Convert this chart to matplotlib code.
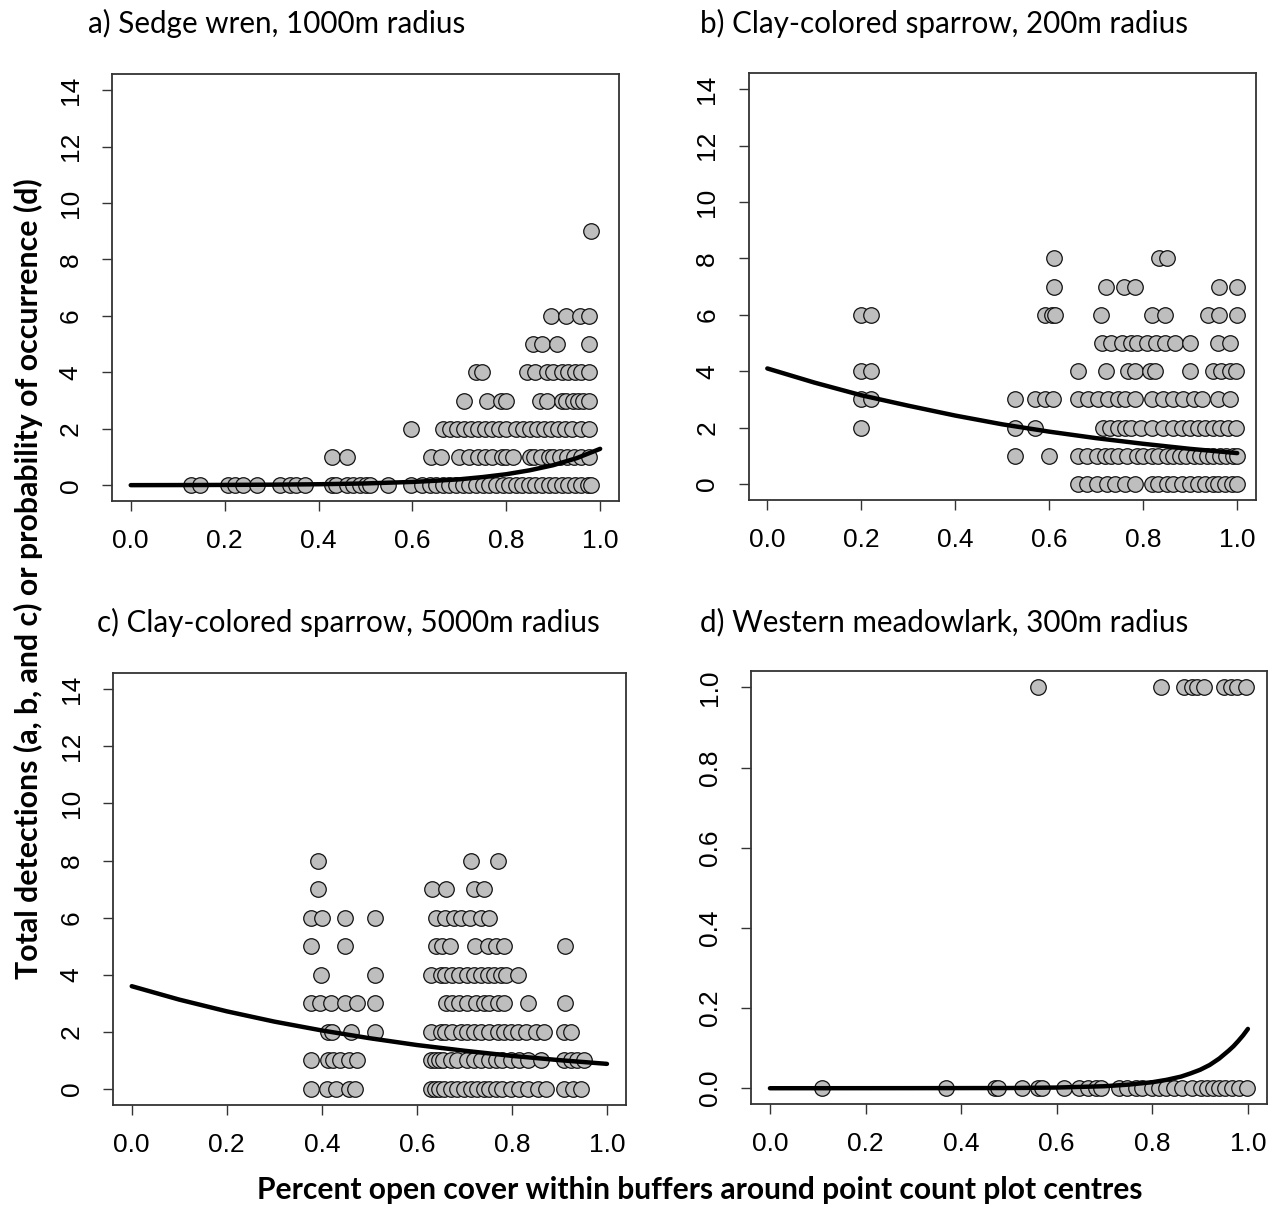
import matplotlib
matplotlib.use("Agg")
import matplotlib.pyplot as plt

# detections per point, grouped by count value -> x positions (percent open cover)
sedge_rows = {
    0: [0.128, 0.147, 0.208, 0.222, 0.240, 0.269, 0.319, 0.339, 0.353, 0.371, 0.428, 0.438,
        0.460, 0.474, 0.488, 0.502, 0.509, 0.548, 0.598, 0.620, 0.637, 0.651, 0.665, 0.679,
        0.693, 0.707, 0.721, 0.735, 0.750, 0.764, 0.778, 0.792, 0.806, 0.820, 0.834, 0.848,
        0.862, 0.876, 0.890, 0.904, 0.918, 0.932, 0.946, 0.960, 0.974, 0.981],
    1: [0.428, 0.460, 0.640, 0.660, 0.700, 0.720, 0.740, 0.755, 0.770, 0.790, 0.800, 0.815,
        0.850, 0.860, 0.875, 0.890, 0.900, 0.915, 0.930, 0.945, 0.960, 0.977],
    2: [0.598, 0.665, 0.680, 0.695, 0.710, 0.725, 0.740, 0.755, 0.770, 0.785, 0.800, 0.820,
        0.835, 0.850, 0.865, 0.880, 0.895, 0.910, 0.925, 0.940, 0.960, 0.977],
    3: [0.710, 0.759, 0.789, 0.800, 0.872, 0.886, 0.918, 0.928, 0.942, 0.953, 0.963, 0.977],
    4: [0.735, 0.749, 0.845, 0.862, 0.886, 0.900, 0.918, 0.932, 0.946, 0.960, 0.977],
    5: [0.858, 0.876, 0.909, 0.977],
    6: [0.895, 0.928, 0.956, 0.977],
    9: [0.981],
}

ccsp200_rows = {
    0: [0.662, 0.680, 0.701, 0.722, 0.740, 0.761, 0.782, 0.818, 0.832, 0.850, 0.864, 0.882,
        0.899, 0.917, 0.931, 0.949, 0.960, 0.974, 0.988, 1.000],
    1: [0.527, 0.600, 0.662, 0.680, 0.701, 0.718, 0.732, 0.747, 0.765, 0.786, 0.800, 0.818,
        0.832, 0.850, 0.864, 0.878, 0.892, 0.907, 0.921, 0.935, 0.949, 0.963, 0.977, 0.991, 1.000],
    2: [0.199, 0.527, 0.569, 0.715, 0.729, 0.747, 0.761, 0.775, 0.796, 0.818, 0.843, 0.864,
        0.882, 0.899, 0.917, 0.931, 0.949, 0.963, 0.981, 0.998],
    3: [0.199, 0.221, 0.527, 0.569, 0.591, 0.609, 0.662, 0.683, 0.704, 0.726, 0.747, 0.761,
        0.782, 0.818, 0.843, 0.864, 0.885, 0.907, 0.924, 0.960, 0.985],
    4: [0.199, 0.221, 0.662, 0.721, 0.768, 0.782, 0.815, 0.825, 0.899, 0.949, 0.966, 0.985, 0.998],
    5: [0.713, 0.732, 0.754, 0.775, 0.786, 0.807, 0.828, 0.846, 0.868, 0.899, 0.960, 0.985],
    6: [0.199, 0.221, 0.591, 0.605, 0.612, 0.711, 0.818, 0.846, 0.938, 0.962, 0.999],
    7: [0.611, 0.721, 0.759, 0.782, 0.962, 1.000],
    8: [0.611, 0.834, 0.850],
}

ccsp5000_rows = {
    0: [0.377, 0.411, 0.430, 0.458, 0.470, 0.629, 0.639, 0.646, 0.657, 0.671, 0.685, 0.699,
        0.713, 0.727, 0.741, 0.752, 0.766, 0.780, 0.798, 0.815, 0.833, 0.854, 0.871, 0.910,
        0.928, 0.945],
    1: [0.377, 0.414, 0.423, 0.438, 0.458, 0.473, 0.629, 0.639, 0.646, 0.655, 0.671, 0.685,
        0.706, 0.720, 0.734, 0.752, 0.766, 0.780, 0.798, 0.815, 0.833, 0.861, 0.910, 0.924,
        0.938, 0.952],
    2: [0.414, 0.421, 0.461, 0.512, 0.629, 0.650, 0.660, 0.674, 0.692, 0.706, 0.720, 0.734,
        0.752, 0.770, 0.784, 0.798, 0.812, 0.829, 0.850, 0.868, 0.910, 0.924],
    3: [0.377, 0.396, 0.419, 0.449, 0.473, 0.512, 0.662, 0.674, 0.688, 0.706, 0.724, 0.741,
        0.752, 0.770, 0.784, 0.833, 0.912],
    4: [0.399, 0.512, 0.629, 0.650, 0.660, 0.674, 0.688, 0.706, 0.720, 0.734, 0.749, 0.763,
        0.777, 0.787, 0.812],
    5: [0.377, 0.449, 0.641, 0.653, 0.669, 0.722, 0.749, 0.766, 0.784, 0.912],
    6: [0.377, 0.400, 0.449, 0.512, 0.641, 0.660, 0.678, 0.692, 0.711, 0.734, 0.752],
    7: [0.391, 0.631, 0.662, 0.720, 0.741],
    8: [0.391, 0.713, 0.771],
}

wmla_rows = {
    0: [0.108, 0.369, 0.470, 0.477, 0.527, 0.560, 0.569, 0.616, 0.647, 0.665, 0.682, 0.692,
        0.731, 0.748, 0.766, 0.779, 0.800, 0.814, 0.828, 0.846, 0.863, 0.884, 0.901, 0.915,
        0.926, 0.939, 0.953, 0.967, 0.981, 0.999],
    1: [0.560, 0.819, 0.866, 0.884, 0.894, 0.908, 0.950, 0.964, 0.978, 0.995],
}

# fitted model curves
sedge_fit_x = [0.0, 0.1, 0.2, 0.3, 0.4, 0.5, 0.6, 0.65, 0.7, 0.75, 0.8, 0.85, 0.9, 0.95, 1.0]
sedge_fit_y = [0.003, 0.006, 0.011, 0.02, 0.035, 0.064, 0.117, 0.16, 0.21, 0.29, 0.39, 0.53,
               0.71, 0.96, 1.29]
ccsp200_fit_x = [0.0, 0.1, 0.2, 0.3, 0.4, 0.5, 0.6, 0.7, 0.8, 0.9, 1.0]
ccsp200_fit_y = [4.1, 3.6, 3.15, 2.78, 2.43, 2.12, 1.86, 1.63, 1.43, 1.25, 1.1]
ccsp5000_fit_x = [0.0, 0.1, 0.2, 0.3, 0.4, 0.5, 0.6, 0.7, 0.8, 0.9, 1.0]
ccsp5000_fit_y = [3.6, 3.13, 2.72, 2.36, 2.05, 1.78, 1.54, 1.34, 1.16, 1.01, 0.88]
wmla_fit_x = [0.0, 0.3, 0.5, 0.6, 0.7, 0.75, 0.8, 0.83, 0.86, 0.88, 0.9, 0.92, 0.94, 0.96,
              0.97, 0.98, 0.99, 1.0]
wmla_fit_y = [0.0, 0.0002, 0.0005, 0.0017, 0.005, 0.009, 0.015, 0.021, 0.029, 0.037, 0.046,
              0.058, 0.074, 0.094, 0.105, 0.118, 0.132, 0.148]

titles = ["a) Sedge wren, 1000m radius",
          "b) Clay-colored sparrow, 200m radius",
          "c) Clay-colored sparrow, 5000m radius",
          "d) Western meadowlark, 300m radius"]
x_ticks = [0.0, 0.2, 0.4, 0.6, 0.8, 1.0]
count_ticks = [0, 2, 4, 6, 8, 10, 12, 14]
prob_ticks = [0.0, 0.2, 0.4, 0.6, 0.8, 1.0]

TICK_FONT = "Liberation Sans"
TEXT_FONT = "Lato"

fig = plt.figure(figsize=(12.78, 12.05), dpi=100)

boxes = [
    [0.0876, 0.5842, 0.3967, 0.3541],
    [0.5857, 0.5851, 0.3971, 0.3541],
    [0.0882, 0.0830, 0.4016, 0.3583],
    [0.5875, 0.0836, 0.4039, 0.3592],
]
panels = [
    (sedge_rows, sedge_fit_x, sedge_fit_y, count_ticks),
    (ccsp200_rows, ccsp200_fit_x, ccsp200_fit_y, count_ticks),
    (ccsp5000_rows, ccsp5000_fit_x, ccsp5000_fit_y, count_ticks),
    (wmla_rows, wmla_fit_x, wmla_fit_y, prob_ticks),
]

for box, (rows, fx, fy, yt) in zip(boxes, panels):
    ax = fig.add_axes(box)
    for count, xs in rows.items():
        ax.scatter(xs, [count] * len(xs), s=125, facecolor="#bebebe",
                   edgecolor="#111111", linewidths=0.9, zorder=2)
    ax.plot(fx, fy, color="black", lw=3.2, zorder=3, solid_capstyle="round",
            solid_joinstyle="round")

    ax.set_xlim(-0.04, 1.04)
    span = yt[-1] - yt[0]
    ax.set_ylim(yt[0] - 0.04 * span, yt[-1] + 0.04 * span)
    ax.set_xticks(x_ticks)
    ax.set_xticklabels([f"{v:.1f}" for v in x_ticks])
    ax.set_yticks(yt)
    if yt is prob_ticks:
        ax.set_yticklabels([f"{v:.1f}" for v in yt])
    else:
        ax.set_yticklabels([str(v) for v in yt])
    ax.tick_params(axis="both", direction="out", length=7, width=1, color="#333333",
                   labelsize=19)
    ax.tick_params(axis="x", pad=13)
    ax.tick_params(axis="y", pad=14)
    for lab in ax.get_yticklabels():
        lab.set_rotation(90)
        lab.set_va("center")
        lab.set_fontfamily(TICK_FONT)
    for lab in ax.get_xticklabels():
        lab.set_fontfamily(TICK_FONT)
    for sp in ax.spines.values():
        sp.set_color("#333333")
        sp.set_linewidth(1.3)

title_pos = [(88, 23), (700, 23), (97, 622), (700, 622)]
for (px, py), t in zip(title_pos, titles):
    fig.text(px / 1278, 1 - py / 1205, t, ha="left", va="center",
             fontsize=21.3, family=TEXT_FONT)

fig.text(700 / 1278, 1 - 1190 / 1205,
         "Percent open cover within buffers around point count plot centres",
         ha="center", va="center", fontsize=21.6, fontweight="bold", family=TEXT_FONT)
fig.text(28 / 1278, 1 - 579 / 1205,
         "Total detections (a, b, and c) or probability of occurrence (d)",
         ha="center", va="center", rotation=90, fontsize=21.8, fontweight="bold",
         family=TEXT_FONT)

fig.savefig("out.png", dpi=100)
